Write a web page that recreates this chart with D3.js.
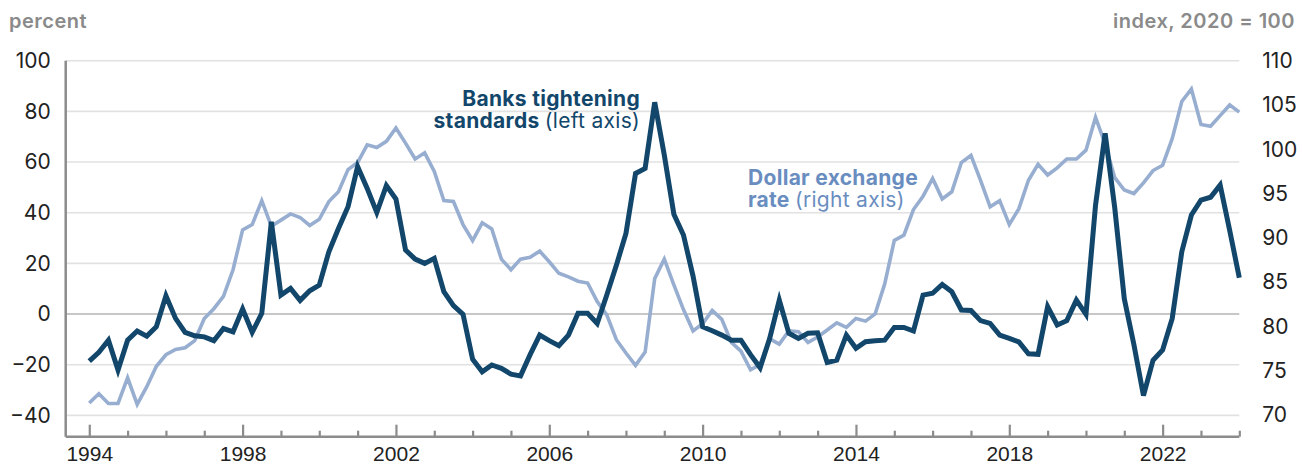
<!DOCTYPE html>
<html>
<head>
<meta charset="utf-8">
<script src="https://cdn.jsdelivr.net/npm/d3@7"></script>
<style>
  body { margin: 0; background: #fff; }
  svg { display: block; font-family: Inter, "Open Sans", sans-serif; }
</style>
</head>
<body>
<svg id="chart" width="1302" height="466"></svg>
<script>
// quarterly data, 1994Q1 .. 2024Q1
const startYear = 1994;

// net percentage of banks tightening standards (left axis)
const banks = [
  -18.6, -15.1, -10.3, -22.1,
  -10.3, -6.7, -8.7, -5,
  7.2, -1.7, -7.2, -8.6,
  -9, -10.5, -5.7, -7,
  2, -7.2, 0.3, 36.4,
  7.5, 10.1, 5.4, 9.2,
  11.4, 24.6, 33.8, 42.4,
  58.2, 49.6, 40.1, 50.7,
  45.4, 25.3, 21.7, 20,
  22, 8.8, 3.3, -0.1,
  -17.8, -22.8, -20.1, -21.4,
  -23.7, -24.4, -16, -8.3,
  -10.5, -12.5, -8.3, 0.3,
  0.3, -3.7, 7.5, 19.3,
  31.8, 55.5, 57.5, 83.6,
  62.8, 39.4, 31.2, 15,
  -5, -6.6, -8.3, -10.3,
  -10.3, -16, -21.2, -9.6,
  5.5, -7.6, -9.6, -7.6,
  -7.4, -19.1, -18.2, -8.3,
  -13.5, -10.9, -10.5, -10.3,
  -5.3, -5.3, -6.7, 7.5,
  8.2, 11.7, 8.8, 1.6,
  1.4, -2.6, -3.7, -8.3,
  -9.6, -11, -15.7, -15.9,
  2.9, -4.3, -2.6, 5.5,
  -0.1, 43, 71.3, 42,
  6, -12, -32.2, -18.2,
  -14.2, -1.7, 24.6, 39.1,
  45, 46.1, 50.9, 33,
  14.3
];

// dollar exchange rate index, 2020 = 100 (right axis)
const dollar = [
  71.35, 72.4, 71.3, 71.3,
  74.2, 71.2, 73.2, 75.5,
  76.8, 77.4, 77.6, 78.4,
  80.9, 82, 83.4, 86.4,
  90.9, 91.5, 94.2, 91.3,
  92, 92.7, 92.3, 91.4,
  92.1, 94.1, 95.2, 97.7,
  98.5, 100.5, 100.2, 100.9,
  102.4, 100.7, 98.9, 99.6,
  97.5, 94.2, 94.1, 91.5,
  89.7, 91.7, 91, 87.6,
  86.4, 87.6, 87.8, 88.5,
  87.3, 86, 85.6, 85.1,
  84.9, 82.8, 81.3, 78.5,
  77, 75.6, 77.1, 85.4,
  87.6, 84.7, 81.9, 79.5,
  80.3, 81.8, 80.8, 78.2,
  77.2, 75.1, 75.7, 78.6,
  78, 79.5, 79.4, 78.2,
  78.8, 79.6, 80.4, 79.9,
  80.9, 80.6, 81.4, 84.8,
  89.7, 90.3, 93.2, 94.7,
  96.7, 94.4, 95.2, 98.5,
  99.3, 96.5, 93.5, 94.2,
  91.5, 93.3, 96.5, 98.3,
  97.1, 97.9, 98.9, 98.9,
  99.9, 103.6, 100.6, 96.8,
  95.4, 95.0, 96.2, 97.6,
  98.2, 101.2, 105.4, 106.8,
  102.8, 102.6, 103.8, 105.0,
  104.2
];

const leftTicks = [-40, -20, 0, 20, 40, 60, 80, 100];
const rightTicks = [70, 75, 80, 85, 90, 95, 100, 105, 110];
const yearTicks = d3.range(1994, 2025);
const yearLabels = [1994, 1998, 2002, 2006, 2010, 2014, 2018, 2022];

const darkBlue = "#12476b";
const lightBlue = "#97aed0";
const labelBlue = "#6a8dbf";
const axisGray = "#8c8c8c";

const svg = d3.select("#chart");

const plotLeft = 65.7, plotRight = 1239.3, plotTop = 60.7, plotBottom = 436.7;

const x = d3.scaleLinear().domain([1993.385, 2024]).range([plotLeft, plotRight]);
const yL = d3.scaleLinear().domain([-48.4, 100]).range([plotBottom, plotTop]);
const yR = d3.scaleLinear().domain([67.55, 110]).range([plotBottom, plotTop]);

const t = i => startYear + i / 4;

// gridlines
svg.append("g")
  .selectAll("line")
  .data(leftTicks)
  .enter()
  .append("line")
  .attr("x1", plotLeft)
  .attr("x2", plotRight)
  .attr("y1", d => yL(d))
  .attr("y2", d => yL(d))
  .attr("stroke", d => d === 0 ? "#b4b4b4" : "#e2e2e2")
  .attr("stroke-width", 1.6);

// left axis
const leftAxis = svg.append("g")
  .attr("transform", `translate(${plotLeft},0)`)
  .call(d3.axisLeft(yL).tickValues(leftTicks).tickSize(0).tickPadding(15));
leftAxis.select(".domain").attr("stroke", axisGray).attr("stroke-width", 2.5)
  .attr("d", `M0,${plotTop}V${plotBottom}`);
leftAxis.selectAll("text")
  .attr("font-size", 21)
  .attr("fill", "#222")
  .attr("font-family", "Inter, sans-serif");

// right axis
const rightAxis = svg.append("g")
  .attr("transform", `translate(${plotRight},0)`)
  .call(d3.axisRight(yR).tickValues(rightTicks).tickSize(0).tickPadding(23));
rightAxis.select(".domain").remove();
rightAxis.selectAll("text")
  .attr("font-size", 21)
  .attr("fill", "#222")
  .attr("font-family", "Inter, sans-serif");

// bottom axis
const xAxis = svg.append("g")
  .attr("transform", `translate(0,${plotBottom})`)
  .call(d3.axisBottom(x).tickValues(yearTicks).tickSize(0).tickFormat(""));
xAxis.select(".domain").attr("stroke", axisGray).attr("stroke-width", 2.5)
  .attr("d", `M${plotLeft},0H${plotRight}`);
xAxis.selectAll(".tick line")
  .attr("stroke", axisGray)
  .attr("stroke-width", 2.2)
  .attr("y1", 0)
  .attr("y2", d => yearLabels.includes(d) ? -12 : -6);
xAxis.selectAll(".tick")
  .filter(d => yearLabels.includes(d))
  .append("text")
  .attr("y", 24.5)
  .attr("text-anchor", "middle")
  .attr("font-size", 21)
  .attr("fill", "#222")
  .text(d => d);

// lines
const dollarLine = d3.line()
  .x((d, i) => x(t(i)))
  .y(d => yR(d));
const banksLine = d3.line()
  .x((d, i) => x(t(i)))
  .y(d => yL(d));

svg.append("path")
  .datum(dollar)
  .attr("fill", "none")
  .attr("stroke", lightBlue)
  .attr("stroke-width", 3.6)
  .attr("stroke-linejoin", "miter")
  .attr("d", dollarLine);

svg.append("path")
  .datum(banks)
  .attr("fill", "none")
  .attr("stroke", darkBlue)
  .attr("stroke-width", 5)
  .attr("stroke-linejoin", "miter")
  .attr("d", banksLine);

// axis titles
svg.append("text")
  .attr("x", 9)
  .attr("y", 28)
  .attr("font-size", 20)
  .attr("font-weight", 600)
  .attr("letter-spacing", 0.5)
  .attr("fill", "#8a8a8a")
  .text("percent");

svg.append("text")
  .attr("x", 1295)
  .attr("y", 28)
  .attr("text-anchor", "end")
  .attr("font-size", 20)
  .attr("font-weight", 600)
  .attr("letter-spacing", 0.5)
  .attr("fill", "#8a8a8a")
  .text("index, 2020 = 100");

// series labels
const banksLabel = svg.append("text")
  .attr("text-anchor", "end")
  .attr("font-size", 21)
  .attr("letter-spacing", 0.3)
  .attr("fill", darkBlue);
banksLabel.append("tspan").attr("x", 640).attr("y", 106)
  .attr("font-weight", 700).text("Banks tightening");
banksLabel.append("tspan").attr("x", 640).attr("y", 128)
  .attr("font-weight", 700).text("standards ")
  .append("tspan").attr("font-weight", 400).text("(left axis)");

const dollarLabel = svg.append("text")
  .attr("font-size", 21)
  .attr("letter-spacing", 0.3)
  .attr("fill", labelBlue);
dollarLabel.append("tspan").attr("x", 748).attr("y", 185)
  .attr("font-weight", 700).text("Dollar exchange");
dollarLabel.append("tspan").attr("x", 748).attr("y", 207)
  .attr("font-weight", 700).text("rate ")
  .append("tspan").attr("font-weight", 400).text("(right axis)");
</script>
</body>
</html>
